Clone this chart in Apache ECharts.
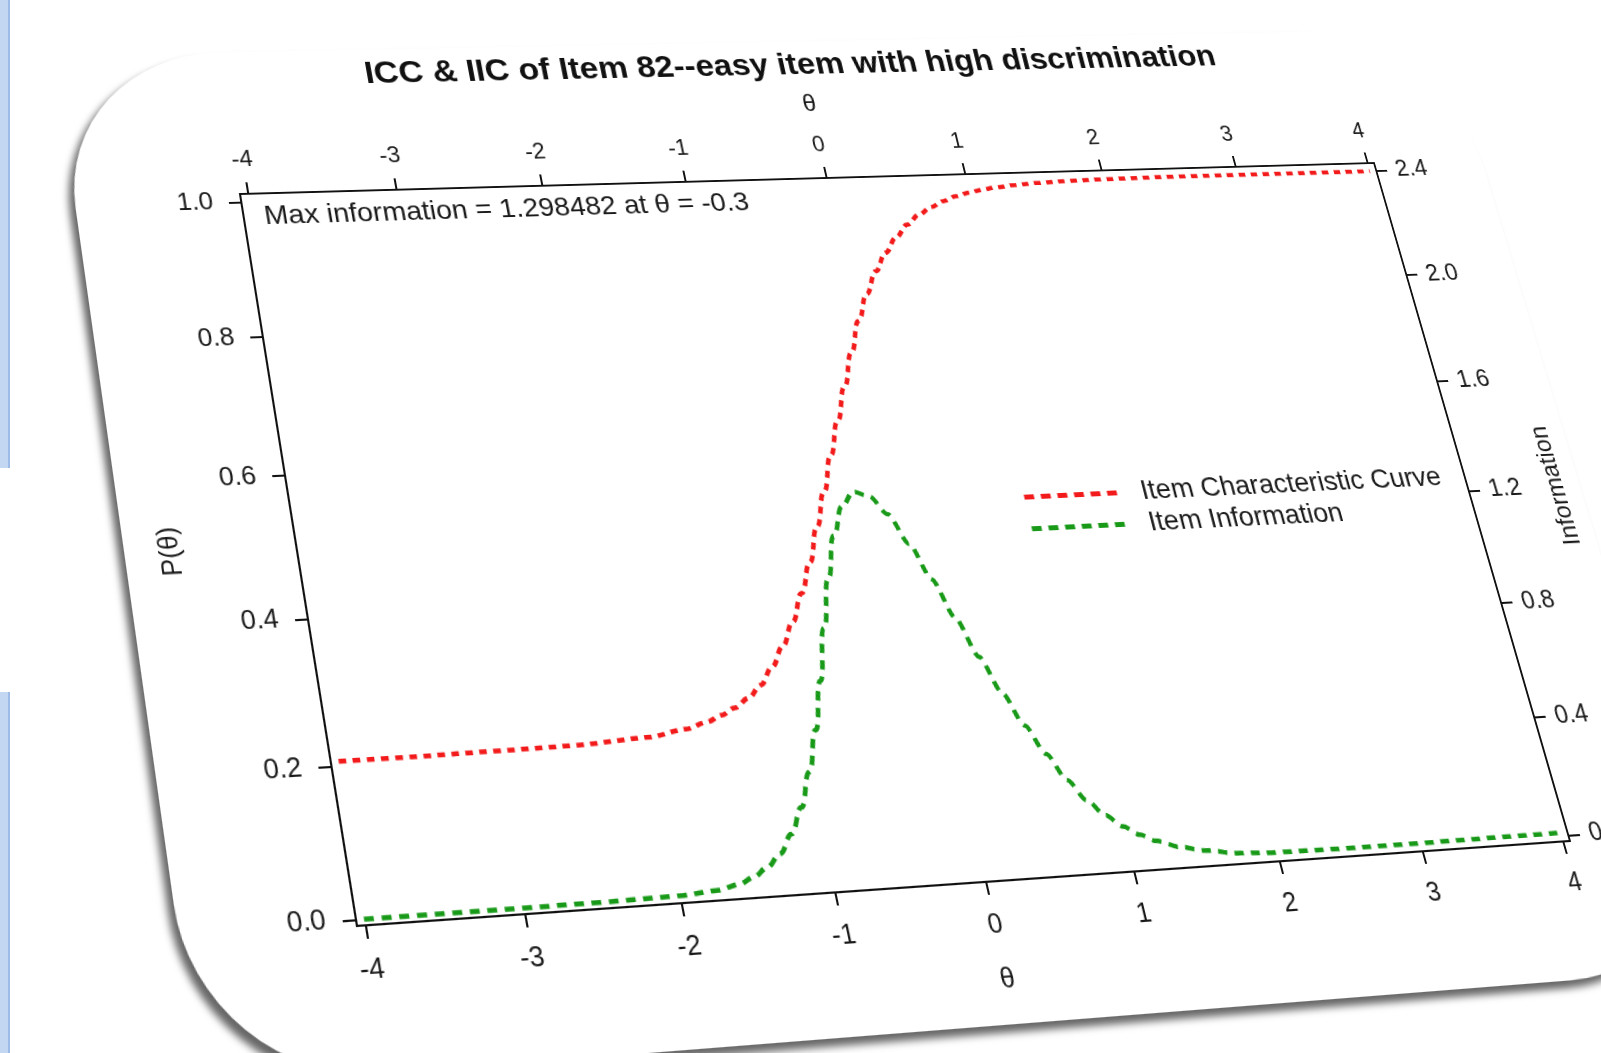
<!DOCTYPE html>
<html>
<head>
<meta charset="utf-8">
<script src="https://cdn.jsdelivr.net/npm/echarts@6/dist/echarts.min.js"></script>
<style>
  html, body { margin: 0; padding: 0; background: #fff; overflow: hidden; width: 1601px; height: 1053px; }
  #card {
    position: absolute; left: 0; top: 0;
    width: 1454px; height: 986px;
    background: #fff;
    border-radius: 160px;
    box-shadow: -6px 7px 7px rgba(0, 0, 0, 0.6);
    transform-origin: 0 0;
  }
  #main { position: absolute; left: 0; top: 0; width: 1454px; height: 986px; }
  .strip { position: absolute; left: 0; width: 8px; background: #c3d7f2; border-right: 2px solid #9dbbe6; }
</style>
</head>
<body>
<div class="strip" style="top:0;height:468px"></div>
<div class="strip" style="top:692px;height:361px"></div>
<div id="card"><div id="main"></div></div>
<script>
// theta grid and values
const theta = [-4, -3.5, -3, -2.5, -2, -1.75, -1.6, -1.5, -1.4, -1.3, -1.2, -1.1, -1, -0.9, -0.8, -0.7,
  -0.6, -0.5, -0.4, -0.3, -0.2, -0.1, 0, 0.1, 0.2, 0.3, 0.4, 0.5, 0.6, 0.7, 0.8, 0.9, 1, 1.1, 1.2,
  1.35, 1.5, 1.75, 2, 2.5, 3, 3.5, 4];
const iccValues = [0.207, 0.207, 0.208, 0.209, 0.214, 0.222, 0.230, 0.238, 0.247, 0.259, 0.276, 0.300,
  0.328, 0.361, 0.400, 0.443, 0.493, 0.543, 0.595, 0.645, 0.695, 0.745, 0.792, 0.832, 0.866, 0.894,
  0.917, 0.936, 0.951, 0.962, 0.971, 0.978, 0.983, 0.987, 0.990, 0.993, 0.995, 0.997, 0.998, 0.999,
  0.999, 0.999, 0.999];
const infoValues = [0.000, 0.000, 0.000, 0.001, 0.004, 0.013, 0.028, 0.047, 0.075, 0.115, 0.175, 0.258,
  0.370, 0.505, 0.665, 0.840, 1.005, 1.150, 1.250, 1.298, 1.280, 1.215, 1.110, 0.985, 0.850, 0.715,
  0.590, 0.478, 0.380, 0.290, 0.220, 0.168, 0.128, 0.098, 0.074, 0.050, 0.033, 0.016, 0.010, 0.008,
  0.008, 0.009, 0.010];

const xTicks = [-4, -3, -2, -1, 0, 1, 2, 3, 4];
const pTicks = [0, 0.2, 0.4, 0.6, 0.8, 1.0];
const infoTicks = [0, 0.4, 0.8, 1.2, 1.6, 2.0, 2.4];

const titleText = 'ICC & IIC of Item 82--easy item with high discrimination';
const noteText = 'Max information = 1.298482 at \u03b8 = -0.3';

// flat layout of the plot area inside the card
const G = { left: 159, top: 150, width: 1175, height: 706 };
// where the plot frame corners sit on the page (tl, tr, br, bl)
const quad = [[240, 194], [1374, 163], [1570, 841], [357, 926]];

function squareToQuad(p) {
  const [x0, y0] = p[0], [x1, y1] = p[1], [x2, y2] = p[2], [x3, y3] = p[3];
  const sx = x0 - x1 + x2 - x3, sy = y0 - y1 + y2 - y3;
  const dx1 = x1 - x2, dx2 = x3 - x2, dy1 = y1 - y2, dy2 = y3 - y2;
  const den = dx1 * dy2 - dx2 * dy1;
  const g = (sx * dy2 - dx2 * sy) / den;
  const h = (dx1 * sy - sx * dy1) / den;
  return {
    a: x1 - x0 + g * x1, b: x3 - x0 + h * x3, c: x0,
    d: y1 - y0 + g * y1, e: y3 - y0 + h * y3, f: y0,
    g: g, h: h
  };
}

function setPerspective(el) {
  const m = squareToQuad(quad);
  const w = G.width, hh = G.height, x0 = G.left, y0 = G.top;
  const A = m.a / w, B = m.b / hh, C = m.c - m.a * x0 / w - m.b * y0 / hh;
  const D = m.d / w, E = m.e / hh, F = m.f - m.d * x0 / w - m.e * y0 / hh;
  const Gx = m.g / w, Hy = m.h / hh, I = 1 - m.g * x0 / w - m.h * y0 / hh;
  el.style.transform = 'matrix3d(' + [A, D, 0, Gx, B, E, 0, Hy, 0, 0, 1, 0, C, F, 0, I].join(',') + ')';
}
setPerspective(document.getElementById('card'));

const font = '"Liberation Sans", Arial, sans-serif';
const ink = '#1a1a1a';
const red = '#f21a1a';
const green = '#189a18';

const myChart = echarts.init(document.getElementById('main'));

const axisCommon = {
  type: 'value',
  axisLine: { show: true, onZero: false, lineStyle: { color: '#111', width: 2 } },
  axisTick: { show: true, length: 12, lineStyle: { color: '#111', width: 2 } },
  splitLine: { show: false },
  axisLabel: { color: ink, fontSize: 25, fontFamily: font },
  nameLocation: 'middle',
  nameTextStyle: { color: ink, fontSize: 25, fontFamily: font }
};

const option = {
  animation: false,
  grid: { left: G.left, top: G.top, width: G.width, height: G.height, containLabel: false },
  graphic: [
    {
      type: 'text', x: G.left + G.width / 2, y: 27,
      style: { text: titleText, align: 'center', verticalAlign: 'middle',
        font: 'bold 34px ' + font, fill: '#111' }
    },
    {
      type: 'text', x: G.left + 20, y: G.top + 24,
      style: { text: noteText, verticalAlign: 'middle', font: '28px ' + font, fill: ink }
    }
  ],
  legend: {
    orient: 'vertical',
    left: G.left + 706, top: 470,
    itemWidth: 99, itemHeight: 14, itemGap: 3,
    itemStyle: { color: 'rgba(0,0,0,0)', borderWidth: 0 },
    textStyle: { color: ink, fontSize: 28, fontFamily: font, lineHeight: 29, padding: [0, 0, 0, 16] },
    data: [
      { name: 'Item Characteristic Curve', lineStyle: { color: red, width: 5, type: [10, 7], cap: 'butt' } },
      { name: 'Item Information', lineStyle: { color: green, width: 5, type: [10, 7], cap: 'butt' } }
    ]
  },
  xAxis: [
    Object.assign({}, axisCommon, {
      position: 'bottom', min: -4.05, max: 4.05,
      name: '\u03b8', nameGap: 78,
      axisTick: Object.assign({}, axisCommon.axisTick, { customValues: xTicks }),
      axisLabel: Object.assign({}, axisCommon.axisLabel, { customValues: xTicks, margin: 28 })
    }),
    Object.assign({}, axisCommon, {
      position: 'top', min: -4.05, max: 4.05,
      name: '\u03b8', nameGap: 67,
      axisTick: Object.assign({}, axisCommon.axisTick, { customValues: xTicks }),
      axisLabel: Object.assign({}, axisCommon.axisLabel, { customValues: xTicks, fontSize: 23, margin: 24 })
    })
  ],
  yAxis: [
    Object.assign({}, axisCommon, {
      position: 'left', min: -0.008, max: 1.012,
      name: 'P(\u03b8)', nameGap: 103,
      axisTick: Object.assign({}, axisCommon.axisTick, { customValues: pTicks }),
      axisLabel: Object.assign({}, axisCommon.axisLabel, {
        customValues: pTicks, margin: 27, formatter: (v) => v.toFixed(1) })
    }),
    Object.assign({}, axisCommon, {
      position: 'right', min: -0.0192, max: 2.4288,
      name: 'Information', nameGap: 83,
      axisTick: Object.assign({}, axisCommon.axisTick, { customValues: infoTicks }),
      axisLabel: Object.assign({}, axisCommon.axisLabel, {
        customValues: infoTicks, margin: 22, formatter: (v) => (v === 0 ? '0' : v.toFixed(1)) })
    })
  ],
  series: [
    {
      name: 'Item Characteristic Curve',
      type: 'line',
      xAxisIndex: 0, yAxisIndex: 0,
      data: theta.map((t, i) => [t, iccValues[i]]),
      smooth: 0.35, smoothMonotone: 'x',
      showSymbol: false, symbol: 'none',
      color: red,
      lineStyle: { color: red, width: 4.5, type: [7, 6], cap: 'butt' }
    },
    {
      name: 'Item Information',
      type: 'line',
      xAxisIndex: 0, yAxisIndex: 1,
      data: theta.map((t, i) => [t, infoValues[i]]),
      smooth: 0.35, smoothMonotone: 'x',
      showSymbol: false, symbol: 'none',
      color: green,
      lineStyle: { color: green, width: 4.5, type: [9, 7], cap: 'butt' }
    }
  ]
};

myChart.setOption(option);
</script>
</body>
</html>
